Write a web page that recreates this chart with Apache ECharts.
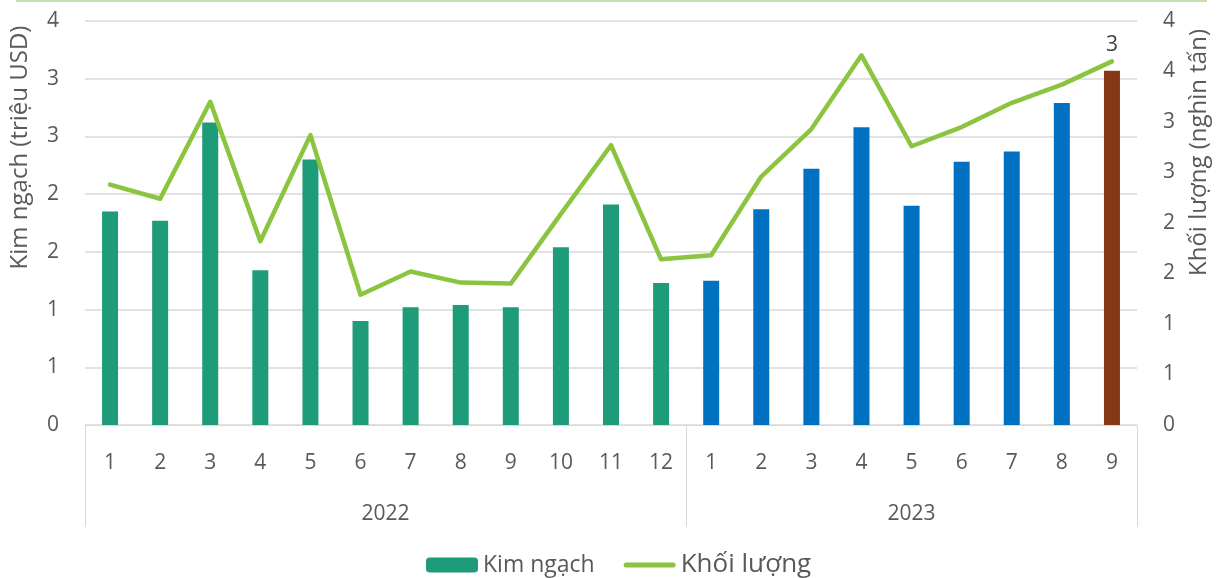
<!DOCTYPE html>
<html>
<head>
<meta charset="utf-8">
<script src="https://cdn.jsdelivr.net/npm/echarts@6/dist/echarts.min.js"></script>
<style>
html,body{margin:0;padding:0;background:#fff;}
#chart{width:1219px;height:578px;}
</style>
</head>
<body>
<div id="chart"></div>
<script>
// ---- data ----
const months = ['1','2','3','4','5','6','7','8','9','10','11','12','1','2','3','4','5','6','7','8','9'];
const years = ['2022','2023'];
const monthsPerYear = [12, 9];
const kimNgach = [1.85,1.77,2.62,1.34,2.30,0.90,1.02,1.04,1.02,1.54,1.91,1.23, 1.25,1.87,2.22,2.58,1.90,2.28,2.37,2.79,3.07];
const khoiLuong = [2.38,2.24,3.20,1.82,2.87,1.29,1.52,1.41,1.40,2.09,2.77,1.64, 1.68,2.46,2.93,3.66,2.76,2.95,3.19,3.37,3.60];
const leftTickLabels = ['0','1','1','2','2','3','3','4'];
const rightTickLabels = ['0','1','1','2','2','3','3','4','4'];

// ---- derived ----
const FONT = 'Open Sans';
const TXT = '#595959';
const GRIDC = '#d9d9d9';
const yearColors = ['#1e9b79', '#0070c0'];
const lastColor = '#853816';
const lineColor = '#8bc43f';

const bounds = [0];
monthsPerYear.forEach(n => bounds.push(bounds[bounds.length - 1] + n));
const yearCenters = years.map((y, i) => (bounds[i] + bounds[i + 1]) / 2);
const yearOf = idx => { for (let i = 0; i < years.length; i++) if (idx < bounds[i + 1]) return i; return years.length - 1; };

const barData = kimNgach.map((v, i) => {
  const last = i === kimNgach.length - 1;
  const item = { value: v, itemStyle: { color: last ? lastColor : yearColors[yearOf(i)] } };
  if (last) item.label = { show: true };
  return item;
});

const chart = echarts.init(document.getElementById('chart'));
chart.setOption({
  animation: false,
  textStyle: { fontFamily: FONT },
  grid: { left: 84, right: 77, top: 21, bottom: 153 },
  graphic: [{
    type: 'line', shape: { x1: 16, y1: 1, x2: 1207, y2: 1 },
    style: { stroke: '#c5e0b3', lineWidth: 2 }
  }],
  legend: {
    left: 426, top: 552, padding: 0,
    itemWidth: 52, itemHeight: 15, itemGap: 29,
    textStyle: { color: TXT, fontFamily: FONT },
    data: [
      { name: 'Kim ngạch', textStyle: { fontSize: 23 } },
      { name: 'Khối lượng', icon: 'path://M2.5,0 H49.5 A2.5,2.5 0 0 1 49.5,5 H2.5 A2.5,2.5 0 0 1 2.5,0 Z',
        itemStyle: { color: lineColor }, textStyle: { fontSize: 26 } }
    ]
  },
  xAxis: [{
    type: 'category', data: months, boundaryGap: true,
    axisLine: { lineStyle: { color: GRIDC, width: 1 } },
    axisTick: { show: false },
    axisLabel: { color: TXT, fontSize: 21, margin: 28, fontFamily: FONT, interval: 0 }
  }, {
    type: 'value', min: 0, max: bounds[bounds.length - 1], position: 'bottom', offset: 0,
    axisLine: { show: false },
    splitLine: { show: false },
    axisTick: { show: true, customValues: bounds, length: 102, lineStyle: { color: GRIDC, width: 1 } },
    axisLabel: {
      customValues: yearCenters, margin: 79, color: TXT, fontSize: 21, fontFamily: FONT,
      formatter: v => { const i = yearCenters.indexOf(v); return i >= 0 ? years[i] : ''; }
    }
  }],
  yAxis: [{
    type: 'value', min: 0, max: 3.5, interval: 0.5, position: 'left',
    name: 'Kim ngạch (triệu USD)', nameLocation: 'middle', nameRotate: 90, nameGap: 53,
    nameTextStyle: { color: TXT, fontSize: 24, fontFamily: FONT, padding: [0, 0, 0, 151] },
    axisLine: { show: false }, axisTick: { show: false },
    splitLine: { lineStyle: { color: GRIDC, width: 1.5 } },
    axisLabel: { color: TXT, fontSize: 21, margin: 26, fontFamily: FONT, formatter: (v, i) => leftTickLabels[i] }
  }, {
    type: 'value', min: 0, max: 4, interval: 0.5, position: 'right',
    name: 'Khối lượng (nghìn tấn)', nameLocation: 'middle', nameRotate: 90, nameGap: 50,
    nameTextStyle: { color: TXT, fontSize: 24, fontFamily: FONT, padding: [0, 0, 0, 141] },
    axisLine: { show: false }, axisTick: { show: false },
    splitLine: { show: false },
    axisLabel: { color: TXT, fontSize: 21, margin: 26, fontFamily: FONT, formatter: (v, i) => rightTickLabels[i] }
  }],
  series: [{
    name: 'Kim ngạch', type: 'bar', xAxisIndex: 0, yAxisIndex: 0,
    barWidth: 16, data: barData,
    itemStyle: { color: yearColors[0] },
    label: {
      show: false, position: 'top', distance: 15, color: '#404040', fontSize: 21, fontFamily: FONT,
      formatter: p => String(Math.round(p.value))
    }
  }, {
    name: 'Khối lượng', type: 'line', xAxisIndex: 0, yAxisIndex: 1,
    data: khoiLuong, symbol: 'none', smooth: false,
    lineStyle: { color: lineColor, width: 4.5, cap: 'round', join: 'round' },
    itemStyle: { color: lineColor }
  }]
});
</script>
</body>
</html>
